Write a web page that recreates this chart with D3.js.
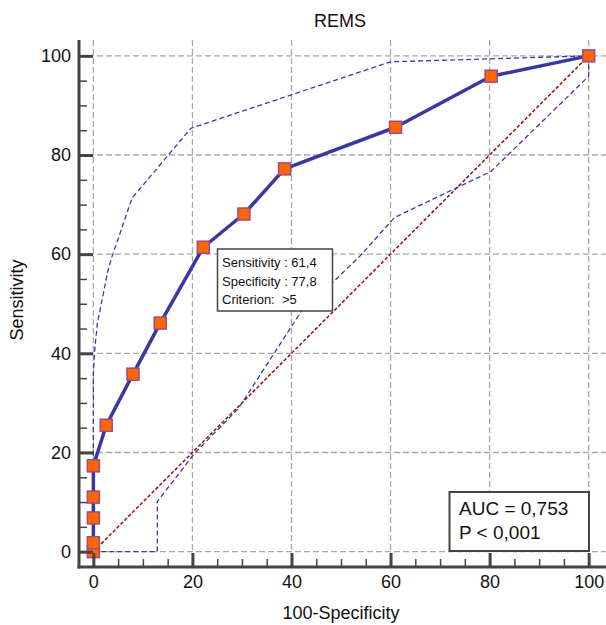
<!DOCTYPE html>
<html>
<head>
<meta charset="utf-8">
<script src="https://cdn.jsdelivr.net/npm/d3@7"></script>
<style>
  body { margin: 0; background: #fff; }
  svg { display: block; font-family: "Liberation Sans", Arial, sans-serif; }
</style>
</head>
<body>
<div id="roc_chart"></div>
<script>
// ROC curve points (100-Specificity, Sensitivity)
var rocFpr  = [0, 0, 0, 0, 0, 2.6, 8.0, 13.5, 22.2, 30.4, 38.6, 61.0, 80.3, 100];
var rocSens = [0, 1.8, 6.8, 11.0, 17.3, 25.5, 35.8, 46.1, 61.4, 68.1, 77.2, 85.6, 95.9, 100];

// upper confidence bound
var upperFpr  = [0, 0, 0.3, 0.8, 2.9, 3.7, 7.8, 19.7, 60.0, 100];
var upperSens = [0, 36, 41, 46, 56.5, 59.3, 71.3, 85.4, 98.8, 100];

// lower confidence bound
var lowerFpr  = [0, 12.9, 12.9, 20.5, 29.3, 42.2, 48.2, 53.9, 60.8, 80.3, 100, 100];
var lowerSens = [0, 0, 10.1, 19.9, 28.9, 48.8, 54.2, 59.7, 67.4, 76.7, 95.9, 100];

var majorTicks = [0, 20, 40, 60, 80, 100];
var minorTicks = [5, 10, 15, 25, 30, 35, 45, 50, 55, 65, 70, 75, 85, 90, 95];

var title = "REMS";
var xLabel = "100-Specificity";
var yLabel = "Sensitivity";
var criterionLines = ["Sensitivity : 61,4", "Specificity : 77,8", "Criterion:  >5"];
var aucLines = ["AUC = 0,753", "P < 0,001"];

var width = 606, height = 625;
var plotLeft = 79, plotRight = 606, plotTop = 40, plotBottom = 567;

var svg = d3.select("#roc_chart")
    .append("svg")
    .attr("width", width)
    .attr("height", height);

var xScale = d3.scaleLinear().domain([-2.9, 103.5]).range([plotLeft, plotRight]);
var yScale = d3.scaleLinear().domain([-3.1, 103.2]).range([plotBottom, plotTop]);

function zip(a, b) {
    return a.map(function (d, i) { return [d, b[i]]; });
}

// grid
var grid = svg.append("g")
    .attr("stroke", "#a8a8a8")
    .attr("stroke-width", 1.3)
    .attr("stroke-dasharray", "6,3");
grid.selectAll(".vx").data(majorTicks).enter().append("line")
    .attr("x1", function (d) { return xScale(d); })
    .attr("x2", function (d) { return xScale(d); })
    .attr("y1", plotTop).attr("y2", plotBottom);
grid.selectAll(".hy").data(majorTicks).enter().append("line")
    .attr("y1", function (d) { return yScale(d); })
    .attr("y2", function (d) { return yScale(d); })
    .attr("x1", plotLeft).attr("x2", plotRight);

var line = d3.line()
    .x(function (d) { return xScale(d[0]); })
    .y(function (d) { return yScale(d[1]); });

// reference diagonal
svg.append("path")
    .datum([[0, 0], [100, 100]])
    .attr("fill", "none")
    .attr("stroke", "#8b1010")
    .attr("stroke-width", 1.5)
    .attr("stroke-dasharray", "3.5,2")
    .attr("d", line);

// confidence bounds
[zip(upperFpr, upperSens), zip(lowerFpr, lowerSens)].forEach(function (pts) {
    svg.append("path")
        .datum(pts)
        .attr("fill", "none")
        .attr("stroke", "#3a3aa8")
        .attr("stroke-width", 1.3)
        .attr("stroke-dasharray", "5,3")
        .attr("d", line);
});

// ROC curve
var roc = zip(rocFpr, rocSens);
svg.append("path")
    .datum(roc)
    .attr("fill", "none")
    .attr("stroke", "#3838a0")
    .attr("stroke-width", 3.5)
    .attr("stroke-linejoin", "round")
    .attr("d", line);

svg.selectAll(".marker").data(roc).enter().append("rect")
    .attr("x", function (d) { return xScale(d[0]) - 6; })
    .attr("y", function (d) { return yScale(d[1]) - 6; })
    .attr("width", 12).attr("height", 12)
    .attr("fill", "#ff6600")
    .attr("stroke", "#a04a8a")
    .attr("stroke-width", 1.5);

// axes
var yAxis = svg.append("g")
    .attr("transform", "translate(" + plotLeft + ",0)")
    .call(d3.axisLeft(yScale).tickValues(majorTicks).tickSize(-14).tickPadding(8));
var yMinor = svg.append("g")
    .attr("transform", "translate(" + plotLeft + ",0)")
    .call(d3.axisLeft(yScale).tickValues(minorTicks).tickSize(-8).tickFormat(""));
var xAxis = svg.append("g")
    .attr("transform", "translate(0," + plotBottom + ")")
    .call(d3.axisBottom(xScale).tickValues(majorTicks).tickSize(-14).tickPadding(8));
var xMinor = svg.append("g")
    .attr("transform", "translate(0," + plotBottom + ")")
    .call(d3.axisBottom(xScale).tickValues(minorTicks).tickSize(-8).tickFormat(""));

[yAxis, yMinor, xAxis, xMinor].forEach(function (g) {
    g.select(".domain").remove();
    g.selectAll("text")
        .attr("fill", "#111")
        .style("font-size", "18px")
        .style("font-family", "\"Liberation Sans\", Arial, sans-serif");
});
[yAxis, xAxis].forEach(function (g) {
    g.selectAll(".tick line").attr("stroke", "#444").attr("stroke-width", 3);
});
[yMinor, xMinor].forEach(function (g) {
    g.selectAll(".tick line").attr("stroke", "#444").attr("stroke-width", 1.5);
});

svg.append("line")
    .attr("x1", plotLeft).attr("x2", plotLeft)
    .attr("y1", plotTop).attr("y2", plotBottom + 1.5)
    .attr("stroke", "#444").attr("stroke-width", 3);
svg.append("line")
    .attr("x1", plotLeft - 1.5).attr("x2", plotRight)
    .attr("y1", plotBottom).attr("y2", plotBottom)
    .attr("stroke", "#444").attr("stroke-width", 3);

// titles
svg.append("text")
    .attr("x", 340).attr("y", 27)
    .attr("text-anchor", "middle")
    .style("font-size", "18px")
    .attr("fill", "#111")
    .text(title);
svg.append("text")
    .attr("x", 341).attr("y", 619)
    .attr("text-anchor", "middle")
    .style("font-size", "18px")
    .attr("fill", "#111")
    .text(xLabel);
svg.append("text")
    .attr("transform", "translate(23,300) rotate(-90)")
    .attr("text-anchor", "middle")
    .style("font-size", "18px")
    .attr("fill", "#111")
    .text(yLabel);

// criterion box
svg.append("rect")
    .attr("x", 217.5).attr("y", 249)
    .attr("width", 115).attr("height", 62)
    .attr("fill", "#fff")
    .attr("stroke", "#444")
    .attr("stroke-width", 1.5);
svg.selectAll(".crit").data(criterionLines).enter().append("text")
    .attr("x", 222)
    .attr("y", function (d, i) { return 267 + i * 18.5; })
    .style("font-size", "13px")
    .style("white-space", "pre")
    .attr("fill", "#111")
    .text(function (d) { return d; });

// AUC box
svg.append("rect")
    .attr("x", 449.5).attr("y", 492)
    .attr("width", 139.5).attr("height", 59)
    .attr("fill", "#fff")
    .attr("stroke", "#444")
    .attr("stroke-width", 2);
svg.selectAll(".auc").data(aucLines).enter().append("text")
    .attr("x", 459)
    .attr("y", function (d, i) { return 515 + i * 24; })
    .style("font-size", "19px")
    .attr("fill", "#111")
    .text(function (d) { return d; });
</script>
</body>
</html>
